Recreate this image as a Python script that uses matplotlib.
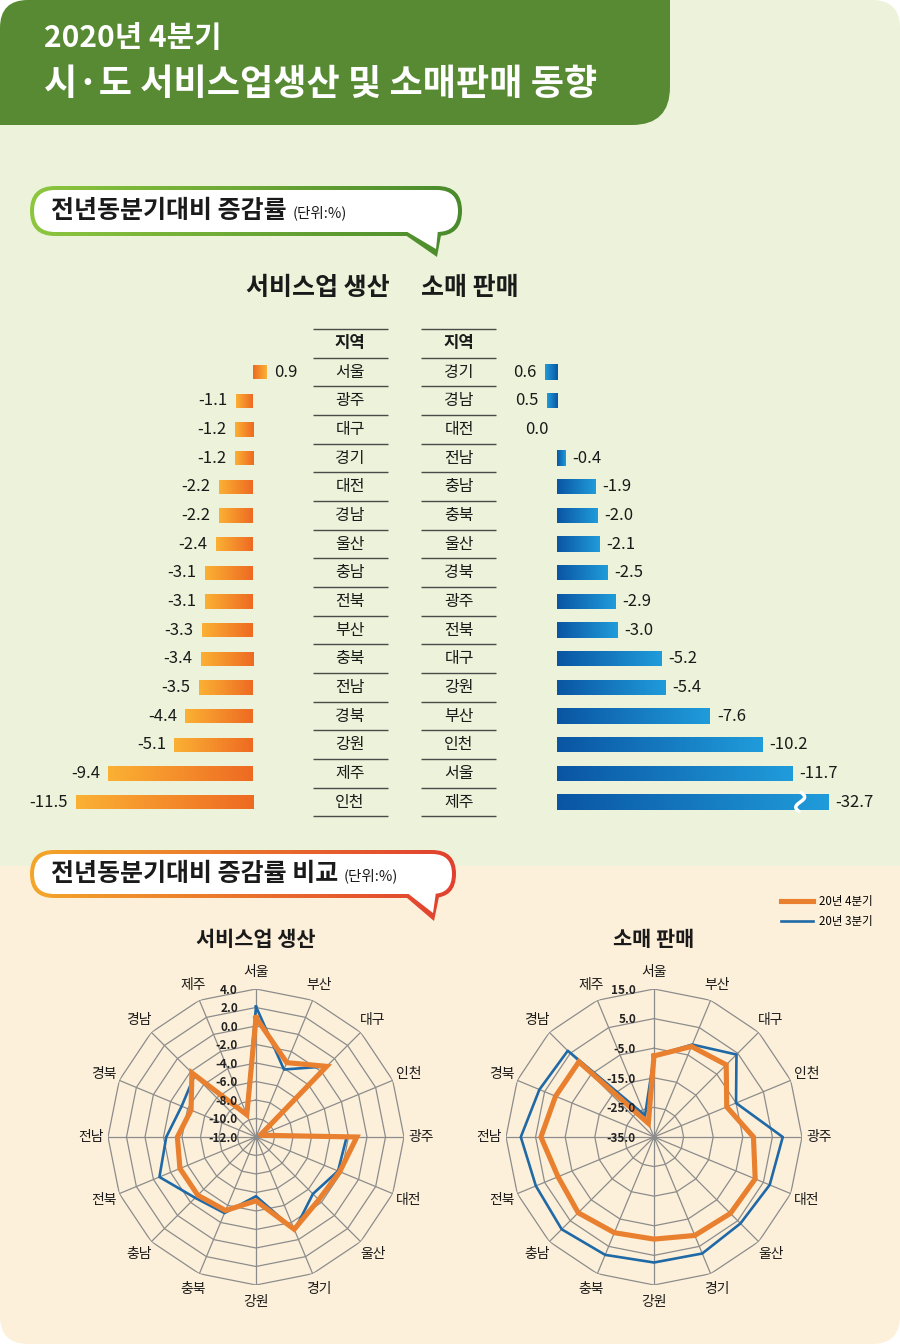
import numpy as np
import matplotlib
matplotlib.use('Agg')
import matplotlib.pyplot as plt
from matplotlib.patches import FancyBboxPatch, Rectangle, Polygon
from matplotlib.colors import LinearSegmentedColormap
from matplotlib.lines import Line2D

plt.rcParams['font.family'] = ['Noto Sans CJK KR', 'DejaVu Sans']

# 막대 그래프 데이터 (전년동분기대비 증감률, %)
svc_regions = ['서울', '광주', '대구', '경기', '대전', '경남', '울산', '충남',
               '전북', '부산', '충북', '전남', '경북', '강원', '제주', '인천']
svc_values = [0.9, -1.1, -1.2, -1.2, -2.2, -2.2, -2.4, -3.1,
              -3.1, -3.3, -3.4, -3.5, -4.4, -5.1, -9.4, -11.5]
rtl_regions = ['경기', '경남', '대전', '전남', '충남', '충북', '울산', '경북',
               '광주', '전북', '대구', '강원', '부산', '인천', '서울', '제주']
rtl_values = [0.6, 0.5, 0.0, -0.4, -1.9, -2.0, -2.1, -2.5,
              -2.9, -3.0, -5.2, -5.4, -7.6, -10.2, -11.7, -32.7]

# 방사형 그래프 데이터
radar_regions = ['서울', '부산', '대구', '인천', '광주', '대전', '울산', '경기',
                 '강원', '충북', '충남', '전북', '전남', '경북', '경남', '제주']
svc_q4 = [0.9, -3.3, -1.2, -11.5, -1.1, -2.2, -2.4, -1.2, -5.1, -3.4, -3.1, -3.1, -3.5, -4.4, -2.2, -9.4]
svc_q3 = [2.1, -4.1, -1.2, -11.4, -2.2, -2.4, -3.3, -1.1, -5.6, -3.1, -2.7, -0.7, -2.3, -3.3, -2.6, -9.3]
rtl_q4 = [-7.6, -1.9, -0.5, -8.4, -1.4, 2.0, 1.5, 1.0, -0.5, 0.0, 1.2, 0.1, 3.2, 1.0, 0.9, -30.0]
rtl_q3 = [-7.6, -1.2, 4.4, -5.0, 8.5, 7.3, 6.3, 7.6, 7.4, 8.1, 9.1, 8.2, 10.0, 6.9, 6.2, -27.1]
svc_ticks = [4, 2, 0, -2, -4, -6, -8, -10, -12]
rtl_ticks = [15, 5, -5, -15, -25, -35]
legend_labels = ['20년 4분기', '20년 3분기']

W, H = 900, 1344
fig = plt.figure(figsize=(9, 13.44), dpi=100)
fig.patch.set_facecolor('white')


def px_axes(x0, y0, x1, y1, **kw):
    # 픽셀 좌표(위가 0)로 축 위치 지정
    return fig.add_axes([x0 / W, 1 - y1 / H, (x1 - x0) / W, (y1 - y0) / H], **kw)


# 배경
bg = px_axes(0, 0, W, H)
page = FancyBboxPatch((0, 0), W, H, boxstyle='round,pad=0,rounding_size=28',
                      fc='none', ec='none')
bg.add_patch(page)
for y0, y1, c in [(0, 866, '#ECF3DA'), (866, H, '#FDF0DA')]:
    r = Rectangle((0, y0), W, y1 - y0, fc=c, ec='none', zorder=0)
    bg.add_patch(r)
    r.set_clip_path(page)
head = FancyBboxPatch((-40, -40), 710, 165, boxstyle='round,pad=0,rounding_size=38',
                      fc='#578A33', ec='none', zorder=1)
bg.add_patch(head)
head.set_clip_path(page)
bg.text(44, 38, '2020년 4분기', color='white', size=21.5, weight='bold', va='center')
bg.text(44, 85, '시·도 서비스업생산 및 소매판매 동향', color='white', size=26,
        weight='bold', va='center')

grad = np.linspace(0, 1, 256).reshape(1, -1)


def bubble(x0, y0, x1, y1, la, ra, tip, c0, c1, text, unit):
    h = y1 - y0
    cmap = LinearSegmentedColormap.from_list('b', [c0, c1])
    outer = FancyBboxPatch((x0, y0), x1 - x0, h, boxstyle=f'round,pad=0,rounding_size={h / 2}',
                           fc='none', ec='none')
    tail = Polygon([(la, y1 - 6), tip, (ra, y1 - 6)], closed=True, fc='none', ec='none')
    for p in (outer, tail):
        bg.add_patch(p)
        im = bg.imshow(grad, cmap=cmap, extent=[x0, x1, tip[1], y0], aspect='auto', zorder=2)
        im.set_clip_path(p)
    b = 4
    bg.add_patch(FancyBboxPatch((x0 + b, y0 + b), x1 - x0 - 2 * b, h - 2 * b,
                                boxstyle=f'round,pad=0,rounding_size={h / 2 - b}',
                                fc='white', ec='none', zorder=3))
    bg.add_patch(Polygon([(la + 6, y1 - 6), (tip[0] - 1, tip[1] - 8), (ra - 4, y1 - 6)],
                         closed=True, fc='white', ec='none', zorder=3))
    t = bg.text(x0 + 21, (y0 + y1) / 2, text, size=18, weight='bold', va='center',
                color='#1a1a1a', zorder=4)
    bg.annotate(unit, xy=(1, 0.12), xycoords=t, xytext=(4, 0), textcoords='offset points',
                size=10.5, va='bottom', color='#1a1a1a', zorder=4)


bubble(30, 186, 462, 236, 398, 442, (437, 257), '#8DC63F', '#4A8A2C',
       '전년동분기대비 증감률', '(단위:%)')
bubble(30, 850, 456, 898, 400, 440, (434, 921), '#F4A62A', '#E1402F',
       '전년동분기대비 증감률 비교', '(단위:%)')

bg.text(318, 288, '서비스업 생산', ha='center', va='center', size=18, weight='bold', color='#1a1a1a')
bg.text(470, 288, '소매 판매', ha='center', va='center', size=18, weight='bold', color='#1a1a1a')

# 표 (지역명)
ROW_TOP, ROW_BOT = 329, 816.4
tab = px_axes(300, ROW_TOP, 510, ROW_BOT)
tab.set_xlim(300, 510)
tab.set_ylim(15.5, -1.5)
tab.axis('off')
rows = np.arange(len(svc_regions))
for xc, x0, x1, names in [(350, 313, 388, svc_regions), (459, 421, 496, rtl_regions)]:
    tab.text(xc, -1, '지역', ha='center', va='center', size=12, weight='bold', color='#1a1a1a')
    for i, n in zip(rows, names):
        tab.text(xc, i, n, ha='center', va='center', size=11.5, color='#1a1a1a')
    tab.hlines(np.arange(-1.5, 16, 1), x0, x1, color='#4a4a4a', lw=1, clip_on=False)

# 서비스업 생산 막대
orange_cmap = LinearSegmentedColormap.from_list('o', ['#EE6A22', '#FBB134'])
lb = px_axes(20, ROW_TOP, 300, ROW_BOT)
lx = (-(253 - 20) / 15.4, (300 - 253) / 15.4)
bars = lb.barh(rows, svc_values, height=0.5, color='none')
for bar, v, i in zip(bars, svc_values, rows):
    y0, hh = bar.get_y(), bar.get_height()
    im = lb.imshow(grad, cmap=orange_cmap, extent=[0, v, y0 + hh, y0], aspect='auto')
    im.set_clip_path(bar)
    if v < 0:
        lb.text(v - 0.55, i, f'{v:.1f}', ha='right', va='center', size=12, color='#1a1a1a')
    else:
        lb.text(v + 0.45, i, f'{v:.1f}', ha='left', va='center', size=12, color='#1a1a1a')
lb.set_xlim(*lx)
lb.set_ylim(15.5, -1.5)
lb.axis('off')

# 소매 판매 막대
blue_cmap = LinearSegmentedColormap.from_list('bl', ['#0A55A3', '#209CDB'])
clip_val = -13.5
rb = px_axes(500, ROW_TOP, 890, ROW_BOT)
shown = [max(v, clip_val) for v in rtl_values]
bars = rb.barh(rows, shown, height=0.54, color='none')
for bar, v, s, i in zip(bars, rtl_values, shown, rows):
    y0, hh = bar.get_y(), bar.get_height()
    im = rb.imshow(grad, cmap=blue_cmap, extent=[0, s, y0 + hh, y0], aspect='auto')
    im.set_clip_path(bar)
    if v < 0:
        rb.text(s - 0.35, i, f'{v:.1f}', ha='left', va='center', size=12, color='#1a1a1a')
    else:
        rb.text(s + 0.4, i, f'{v:.1f}', ha='right', va='center', size=12, color='#1a1a1a')
    if v < clip_val:
        yy = np.linspace(i - 0.36, i + 0.36, 40)
        xx = s + 1.4 + 0.22 * np.sin((yy - i) / 0.36 * np.pi)
        rb.plot(xx, yy, color='white', lw=2.5, solid_capstyle='butt')
rb.set_xlim((557 - 500) / 20.1, -(890 - 557) / 20.1)
rb.set_ylim(15.5, -1.5)
rb.axis('off')

# 방사형 그래프
ORANGE, BLUE, GRID = '#E8802F', '#1F69A6', '#8C8C8C'
theta = np.arange(len(radar_regions)) * 2 * np.pi / len(radar_regions)
closed = np.append(theta, theta[0])


def radar(cx, q4, q3, ticks, title):
    cy, R = 1137, 148
    ax = px_axes(cx - R, cy - R, cx + R, cy + R, projection='polar')
    ax.set_theta_zero_location('N')
    ax.set_theta_direction(-1)
    rmin, rmax = min(ticks), max(ticks)
    for t in ticks:
        if t != rmin:
            ax.plot(closed, [t] * len(closed), color=GRID, lw=0.9)
    for a in theta:
        ax.plot([a, a], [rmin, rmax], color=GRID, lw=0.9)
    l3, = ax.plot(closed, np.append(q3, q3[0]), color=BLUE, lw=1.9)
    l4, = ax.plot(closed, np.append(q4, q4[0]), color=ORANGE, lw=3.7, solid_joinstyle='miter')
    ax.plot(0, rmin, 'o', color=GRID, ms=3)
    for t in ticks:
        ax.annotate(f'{t:.1f}', xy=(0, t), xytext=(-13, -1), textcoords='offset points',
                    ha='right', va='center', size=8.5, weight='bold', color='#222222')
    for a, n in zip(theta, radar_regions):
        ax.text(a, rmax + 0.115 * (rmax - rmin), n, ha='center', va='center',
                size=10, color='#1a1a1a')
    ax.set_ylim(rmin, rmax)
    ax.grid(False)
    ax.set_xticks([])
    ax.set_yticks([])
    ax.spines['polar'].set_visible(False)
    ax.patch.set_alpha(0)
    bg.text(cx, 940, title, ha='center', va='center', size=15, weight='bold', color='#1a1a1a')
    return l4, l3


radar(256, svc_q4, svc_q3, svc_ticks, '서비스업 생산')
radar(654, rtl_q4, rtl_q3, rtl_ticks, '소매 판매')

fig.legend([Line2D([], [], color=ORANGE, lw=3.7), Line2D([], [], color=BLUE, lw=1.9)],
           legend_labels, loc='upper left', bbox_to_anchor=(781 / W, 1 - 895 / H),
           frameon=False, fontsize=8.3, handlelength=2.8, handletextpad=0.5,
           labelspacing=0.6, borderpad=0, borderaxespad=0)

bg.set_xlim(0, W)
bg.set_ylim(H, 0)
bg.axis('off')

fig.savefig('out.png', dpi=100)
